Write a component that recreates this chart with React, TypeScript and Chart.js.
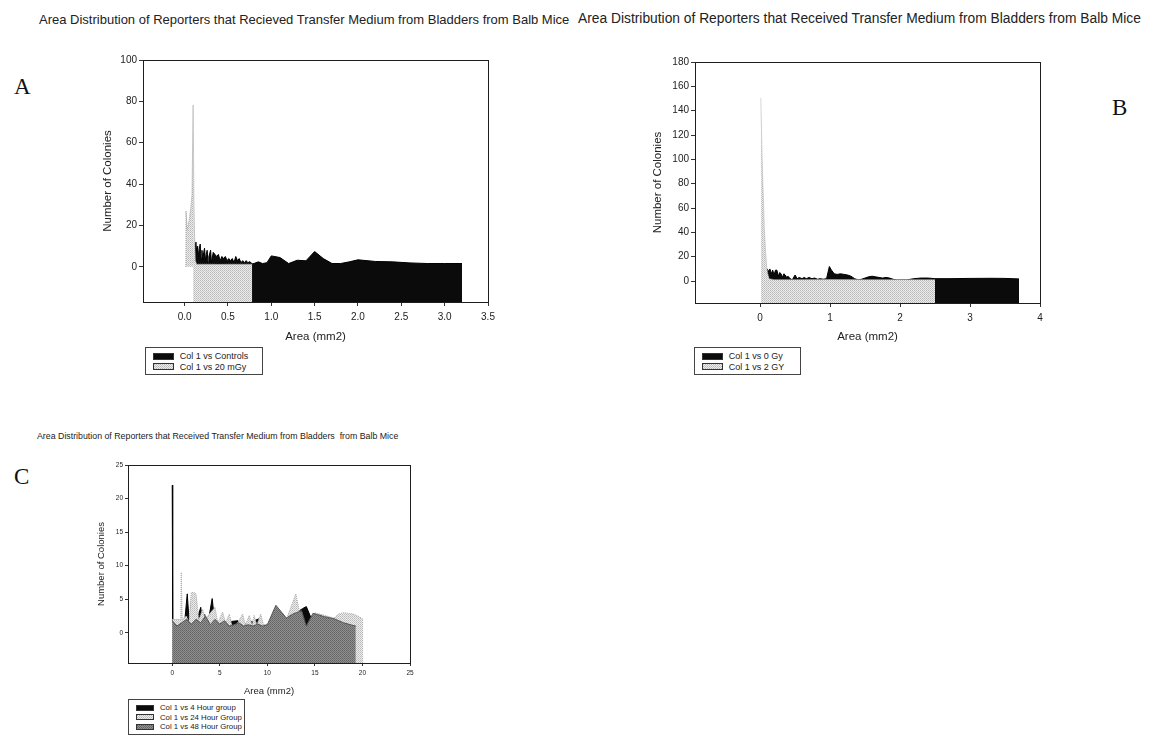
import React, { useEffect, useRef } from 'react';
import { Chart, registerables } from 'chart.js';
Chart.register(...registerables);

// ---------------- Panel A data ----------------
const areaA_controls = [0.11,0.12,0.13,0.14,0.15,0.16,0.17,0.18,0.19,0.2,0.21,0.22,0.23,0.24,0.25,0.26,0.27,0.28,0.3,0.31,0.33,0.35,0.37,0.39,0.41,0.43,0.45,0.47,0.49,0.51,0.53,0.55,0.57,0.59,0.61,0.63,0.65,0.67,0.69,0.71,0.73,0.75,0.78,0.8,0.85,0.9,0.95,1.0,1.1,1.2,1.3,1.4,1.5,1.6,1.7,1.8,1.9,2.0,2.2,2.4,2.6,2.8,3.0,3.2];
const countA_controls = [2,11,12,7,10,5,9,11,4,8,3,7,9,3,6,8,2,5,8,2,7,6,5,6,3,5,4,5,3,4,3,4,2,5,3,4,2,3,2,3,2,2.5,1.5,1.6,2.4,1.6,2,5.3,4.5,1.6,3.2,2.9,7.4,4,1.6,1.6,2.4,3.4,2.6,2.4,1.9,1.6,1.6,1.6];
// 20 mGy: the first few small-area bins (drawn above the zero line only)
const areaA_20mGy_first = [0.014,0.016,0.03,0.05,0.07,0.085,0.098];
const countA_20mGy_first = [0,27,18,22,28,35,78];
const areaA_20mGy = [0.098,0.102,0.108,0.115,0.125,0.14,0.2,0.3,0.4,0.5,0.6,0.7,0.78];
const countA_20mGy = [78,60,30,15,3,1.3,1.3,1.3,1.2,1.3,1.3,1.3,1.3];
const xTicksA = [0,0.5,1,1.5,2,2.5,3,3.5];
const yTicksA = [0,20,40,60,80,100];

// ---------------- Panel B data ----------------
const areaB_0Gy = [0.085,0.1,0.12,0.14,0.16,0.18,0.2,0.22,0.24,0.26,0.28,0.3,0.32,0.34,0.36,0.38,0.4,0.43,0.46,0.5,0.53,0.56,0.6,0.63,0.66,0.7,0.74,0.78,0.82,0.86,0.9,0.95,0.99,1.02,1.06,1.1,1.15,1.2,1.25,1.3,1.35,1.4,1.45,1.5,1.55,1.6,1.65,1.7,1.75,1.8,1.85,1.9,1.95,2.0,2.1,2.2,2.3,2.4,2.5,2.7,3.0,3.3,3.5,3.7];
const countB_0Gy = [3,10,8,10,6,9,5,9,9,4,7,6,3,6,5,3,4,2,1,5,2,3,2,3,2,3,2,2.5,1.5,2,1.5,2,12,9,6,5.5,6,5.5,5,4,2,1,1.5,2.5,3.5,4,3.5,3,2.5,3,2.5,1.5,1,1,1,2,2.5,2.5,2,2,2.2,2.3,2.2,1.8];
const areaB_2Gy = [0.01,0.03,0.06,0.08,0.095,0.11,0.13,0.2,0.5,1.0,1.5,2.0,2.5];
const countB_2Gy = [150,100,45,23,12,6,2,1.2,1.2,1.3,1.2,1.2,1.2];
const xTicksB = [0,1,2,3,4];
const yTicksB = [0,20,40,60,80,100,120,140,160,180];

// ---------------- Panel C data ----------------
const areaC_4h = [0,0.05,1.3,1.58,1.8,2.1,2.4,3.0,3.2,3.4,3.7,4.2,4.5,5,6.9,7.2,9.15,9.4,10,12,13.7,14.1,14.6,15,17];
const countC_4h = [22,1.5,1.5,5.8,1.2,5.5,1,3.8,1,2.8,1,5.1,1.2,1.5,1.8,1,2.1,1,1.1,2,3.6,3.9,2.2,1.0,2.1];
const areaC_24h = [0,0.9,0.95,1.05,1.5,1.75,2,2.3,2.5,2.8,3.2,3.5,4,4.5,4.8,5.3,5.6,6,6.3,6.8,7.4,7.7,8.1,8.4,8.6,8.9,9.3,9.6,10,12,13,13.4,14.1,15,16,17,17.5,18,19,19.5,20,20.1];
const countC_24h = [2,2,9,2,2.5,1.5,6,6,5.8,2,3.5,2,3,3.8,1.5,3.1,1.5,2.8,1,1.3,2.8,1.2,2.6,1.2,2.6,1.2,2.8,1.2,1.3,2,5.8,3,0.85,3,2.6,2.2,2.8,3,2.8,2.5,2.1,2.1];
const areaC_48h = [0,0.5,1,1.5,2,2.5,3,3.5,4,4.5,5,5.5,6,6.5,7,7.5,8,8.5,9,9.5,10,10.9,12,12.7,13.6,14.1,14.8,15.3,16,17,18,19,19.3];
const countC_48h = [1.8,1,1.5,2,1.3,2,1.5,2.5,1.2,2,1.3,1.8,1,1.2,1.5,1,1.2,1,1.3,1,1.2,4.1,2.2,2.8,3.3,1.0,2.9,2.7,2.4,2.1,1.5,1.1,1.0];
const xTicksC = [0,5,10,15,20,25];
const yTicksC = [0,5,10,15,20,25];

// ---------------- textures ----------------
function makeTile(rows: string[][]) {
  const c = document.createElement('canvas');
  c.width = rows[0].length;
  c.height = rows.length;
  const g = c.getContext('2d')!;
  rows.forEach((row, y) => row.forEach((col, x) => { g.fillStyle = col; g.fillRect(x, y, 1, 1); }));
  return c;
}
const stippleTile = makeTile([['#b8b8b8', '#ececec'], ['#ececec', '#c8c8c8']]);
const darkTile = makeTile([['#626262', '#909090'], ['#909090', '#6e6e6e']]);
const stippleURL = stippleTile.toDataURL();
const darkURL = darkTile.toDataURL();

const FONT = '"Liberation Sans", Arial, sans-serif';
const INK = '#222';

type FillKind = 'black' | 'stipple' | 'dark';
interface Series { x: number[]; y: number[]; fill: FillKind; border: string; dash?: number[]; order: number; fillTo?: any; }
interface PanelSpec {
  left: number; top: number; width: number; height: number;
  padTop: number; padRight: number; yWidth: number; xHeight: number;
  xMin: number; xMax: number; xTicks: number[]; xDigits: number;
  yMin: number; yMax: number; yTicks: number[];
  tickSize: number; titleSize: number; tickLen: number;
  xTickPad: number; yTickPad: number; yTitlePad: number;
  series: Series[];
}

const framePlugin = {
  id: 'frame',
  afterDatasetsDraw(chart: any) {
    const { ctx, chartArea: a } = chart;
    ctx.save();
    ctx.strokeStyle = '#1e1e1e';
    ctx.lineWidth = 1;
    ctx.setLineDash([]);
    ctx.strokeRect(Math.round(a.left) + 0.5, Math.round(a.top) + 0.5, Math.round(a.right - a.left), Math.round(a.bottom - a.top));
    ctx.restore();
  },
};

function PanelChart({ spec }: { spec: PanelSpec }) {
  const ref = useRef<HTMLCanvasElement>(null);
  useEffect(() => {
    const canvas = ref.current!;
    const g = canvas.getContext('2d')!;
    const fills: Record<FillKind, any> = {
      black: '#0b0b0b',
      stipple: g.createPattern(stippleTile, 'repeat'),
      dark: g.createPattern(darkTile, 'repeat'),
    };
    const tickFont = { family: FONT, size: spec.tickSize };
    const titleFont = { family: FONT, size: spec.titleSize };
    const chart = new Chart(canvas, {
      type: 'line',
      data: {
        datasets: spec.series.map((s) => ({
          data: s.x.map((v, i) => ({ x: v, y: s.y[i] })),
          backgroundColor: fills[s.fill],
          borderColor: s.border,
          borderWidth: 1,
          borderDash: s.dash || [],
          fill: s.fillTo !== undefined ? s.fillTo : 'start',
          pointRadius: 0,
          tension: 0,
          order: s.order,
        })),
      },
      options: {
        animation: false,
        responsive: false,
        devicePixelRatio: 1,
        events: [],
        layout: { padding: { top: spec.padTop, right: spec.padRight, left: 0, bottom: 0 } },
        plugins: { legend: { display: false }, tooltip: { enabled: false }, title: { display: false } },
        scales: {
          x: {
            type: 'linear',
            position: 'bottom',
            min: spec.xMin,
            max: spec.xMax,
            afterBuildTicks: (s: any) => { s.ticks = spec.xTicks.map((v) => ({ value: v })); },
            afterFit: (s: any) => { s.height = spec.xHeight; },
            ticks: {
              autoSkip: false, maxRotation: 0, minRotation: 0, font: tickFont, color: INK,
              padding: spec.xTickPad,
              callback: (v: any) => Number(v).toFixed(spec.xDigits),
            },
            grid: { display: true, drawOnChartArea: false, drawTicks: true, tickLength: spec.tickLen, color: '#333', lineWidth: 1 },
            border: { display: false },
            title: { display: true, text: 'Area (mm2)', font: titleFont, color: INK, padding: { top: 0, bottom: 0 } },
          },
          y: {
            type: 'linear',
            position: 'left',
            min: spec.yMin,
            max: spec.yMax,
            afterBuildTicks: (s: any) => { s.ticks = spec.yTicks.map((v) => ({ value: v })); },
            afterFit: (s: any) => { s.width = spec.yWidth; },
            ticks: { autoSkip: false, font: tickFont, color: INK, padding: spec.yTickPad, callback: (v: any) => String(v) },
            grid: { display: true, drawOnChartArea: false, drawTicks: true, tickLength: spec.tickLen, color: '#333', lineWidth: 1 },
            border: { display: false },
            title: { display: true, text: 'Number of Colonies', font: titleFont, color: INK, padding: { top: spec.yTitlePad, bottom: 0 } },
          },
        },
      } as any,
      plugins: [framePlugin],
    });
    return () => chart.destroy();
  }, []);
  return (
    <canvas
      ref={ref}
      width={spec.width}
      height={spec.height}
      style={{ position: 'absolute', left: spec.left, top: spec.top, width: spec.width, height: spec.height }}
    />
  );
}

function Legend({ left, top, width, rowH, size, items }: { left: number; top: number; width: number; rowH: number; size: number; items: { label: string; fill: FillKind }[] }) {
  const bg = (f: FillKind) => (f === 'black' ? { background: '#0b0b0b' } : { backgroundImage: `url(${f === 'stipple' ? stippleURL : darkURL})` });
  return (
    <div style={{ position: 'absolute', left, top, width, border: '1px solid #444', padding: '3px 0 2px 0', background: '#fff', boxSizing: 'border-box' }}>
      {items.map((it, i) => (
        <div key={i} style={{ display: 'flex', alignItems: 'center', height: rowH, fontFamily: FONT, fontSize: size, color: INK, whiteSpace: 'nowrap' }}>
          <div style={{ width: size * 2.3, height: Math.round(size * 0.75), marginLeft: 7, marginRight: 6, border: '1px solid #333', boxSizing: 'border-box', ...bg(it.fill) }} />
          <span>{it.label}</span>
        </div>
      ))}
    </div>
  );
}

function Text({ left, cy, size, text, serif }: { left: number; cy: number; size: number; text: string; serif?: boolean }) {
  return (
    <div style={{ position: 'absolute', left, top: cy - size / 2, height: size, lineHeight: `${size}px`, fontSize: size, fontFamily: serif ? '"Liberation Serif", "Times New Roman", serif' : FONT, color: serif ? '#111' : INK, whiteSpace: 'pre' }}>
      {text}
    </div>
  );
}

const specA: PanelSpec = {
  left: 90, top: 50, width: 420, height: 294, padTop: 10, padRight: 22, yWidth: 53, xHeight: 42,
  xMin: -0.48, xMax: 3.5, xTicks: xTicksA, xDigits: 1, yMin: -17, yMax: 100, yTicks: yTicksA,
  tickSize: 10, titleSize: 11.5, tickLen: 4, xTickPad: 5, yTickPad: 2, yTitlePad: 11,
  series: [
    { x: areaA_controls, y: countA_controls, fill: 'black', border: '#000', order: 3 },
    { x: areaA_20mGy, y: countA_20mGy, fill: 'stipple', border: '#a0a0a0', dash: [1, 1], order: 1 },
    { x: areaA_20mGy_first, y: countA_20mGy_first, fill: 'stipple', border: '#a0a0a0', dash: [1, 1], order: 2, fillTo: { value: 0 } },
  ],
};

const specB: PanelSpec = {
  left: 640, top: 50, width: 410, height: 294, padTop: 12, padRight: 10, yWidth: 55, xHeight: 41,
  xMin: -0.93, xMax: 4, xTicks: xTicksB, xDigits: 0, yMin: -18, yMax: 180, yTicks: yTicksB,
  tickSize: 10, titleSize: 11.5, tickLen: 4, xTickPad: 5, yTickPad: 2, yTitlePad: 11,
  series: [
    { x: areaB_0Gy, y: countB_0Gy, fill: 'black', border: '#000', order: 2 },
    { x: areaB_2Gy, y: countB_2Gy, fill: 'stipple', border: '#b0b0b0', dash: [1, 1], order: 1 },
  ],
};

const specC: PanelSpec = {
  left: 90, top: 450, width: 330, height: 247, padTop: 15, padRight: 10, yWidth: 38, xHeight: 34,
  xMin: -4.65, xMax: 25, xTicks: xTicksC, xDigits: 0, yMin: -4.5, yMax: 25, yTicks: yTicksC,
  tickSize: 6.5, titleSize: 9.5, tickLen: 3, xTickPad: 3, yTickPad: 2, yTitlePad: 6,
  series: [
    { x: areaC_4h, y: countC_4h, fill: 'black', border: '#000', order: 3 },
    { x: areaC_24h, y: countC_24h, fill: 'stipple', border: '#aaaaaa', dash: [1, 1], order: 2 },
    { x: areaC_48h, y: countC_48h, fill: 'dark', border: '#555', order: 1 },
  ],
};

export default function App() {
  return (
    <div style={{ position: 'absolute', left: 0, top: 0, width: 1162, height: 736, background: '#fff', overflow: 'hidden' }}>
      <Text left={39} cy={19} size={13} text="Area Distribution of Reporters that Recieved Transfer Medium from Bladders from Balb Mice" />
      <Text left={578} cy={19} size={13.8} text="Area Distribution of Reporters that Received Transfer Medium from Bladders from Balb Mice" />
      <Text left={37} cy={436} size={8.8} text="Area Distribution of Reporters that Received Transfer Medium from Bladders  from Balb Mice" />
      <Text left={14} cy={86} size={23} text="A" serif />
      <Text left={1112} cy={107} size={23} text="B" serif />
      <Text left={14} cy={476} size={23} text="C" serif />
      <PanelChart spec={specA} />
      <PanelChart spec={specB} />
      <PanelChart spec={specC} />
      <Legend left={145} top={347} width={118} rowH={10.5} size={9} items={[{ label: 'Col 1 vs Controls', fill: 'black' }, { label: 'Col 1 vs 20 mGy', fill: 'stipple' }]} />
      <Legend left={694} top={347} width={107} rowH={10.5} size={9} items={[{ label: 'Col 1 vs 0 Gy', fill: 'black' }, { label: 'Col 1 vs 2  GY', fill: 'stipple' }]} />
      <Legend left={128} top={699} width={117} rowH={9.5} size={7.8} items={[{ label: 'Col 1 vs 4 Hour group', fill: 'black' }, { label: 'Col 1 vs 24 Hour Group', fill: 'stipple' }, { label: 'Col 1 vs 48 Hour Group', fill: 'dark' }]} />
    </div>
  );
}
